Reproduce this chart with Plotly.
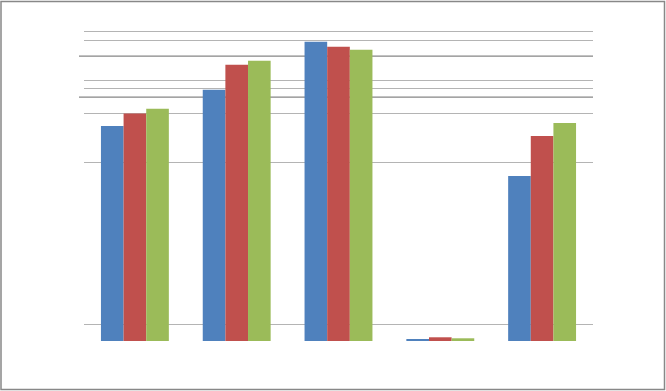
import plotly.graph_objects as go

categories = ["1", "2", "3", "4", "5"]
series_a = [214.7, 250.7, 298.7, 1.7, 164.7]
series_b = [227.0, 275.7, 293.7, 3.7, 204.7]
series_c = [231.7, 279.7, 290.7, 2.7, 217.7]
light_grid = [16.7, 178.4, 227.4, 252.4, 260.4, 300.4, 309.4, 317.4]
dark_grid = [243.4, 284.4]
y_max = 317.4

W, H = 666, 391
ML, MR, MT, MB = 84, 73, 23, 50
pw, ph = W - ML - MR, H - MT - MB

fig = go.Figure()
for name, vals, col in [("A", series_a, "#4F81BD"), ("B", series_b, "#C0504D"), ("C", series_c, "#9BBB59")]:
    fig.add_trace(go.Bar(x=categories, y=vals, name=name, marker=dict(color=col, line=dict(width=0))))

shapes = []
for v in dark_grid:
    shapes.append(dict(type="line", xref="paper", yref="y", x0=-5 / pw, x1=1, y0=v, y1=v,
                       line=dict(color="#868686", width=1.3), layer="below"))
# outer frame
shapes.append(dict(type="rect", xref="paper", yref="paper",
                   x0=(1 - ML) / pw, x1=(W - 1.5 - ML) / pw,
                   y0=-(MB - 1.5) / ph, y1=1 + (MT - 1.5) / ph,
                   line=dict(color="#888888", width=1.5), layer="above"))

fig.update_layout(
    width=W, height=H,
    margin=dict(l=ML, r=MR, t=MT, b=MB, pad=0),
    paper_bgcolor="white", plot_bgcolor="white",
    barmode="group", bargap=0.333, bargroupgap=0,
    showlegend=False,
    shapes=shapes,
    xaxis=dict(showticklabels=False, showgrid=False, zeroline=False, showline=False, ticks=""),
    yaxis=dict(range=[0, y_max], tickvals=light_grid, showticklabels=False, showgrid=True,
               gridcolor="#B4B4B4", gridwidth=1, zeroline=False, showline=False, ticks=""),
)
fig.write_html("out.html")
